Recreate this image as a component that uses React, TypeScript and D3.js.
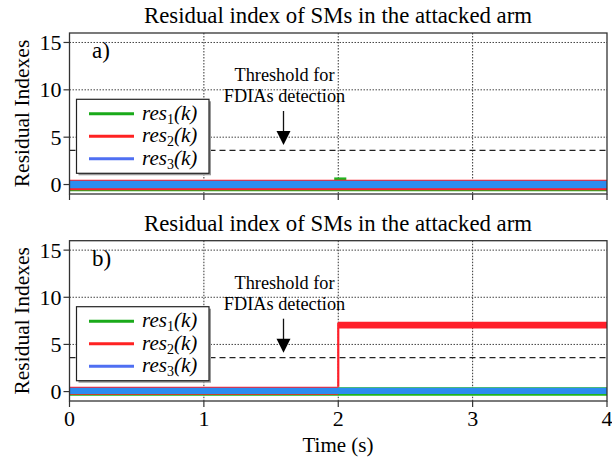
import React from "react";
import * as d3 from "d3";

// ---- data ----
const xTicks = [0, 1, 2, 3, 4];
const yTicks = [0, 5, 10, 15];
const threshold = 3.6;
const seriesNames = ["res1", "res2", "res3"];
const seriesColors = ["#1fb51f", "#ff1f2a", "#2b8cf0"];
const legendColors = ["#1aaa1a", "#ff2222", "#4f6ff2"];

// bands: [tStart, tEnd, low, high]
const panelA_green = [[0, 4, -0.7, 0.35], [1.97, 2.06, 0.3, 0.75]];
const panelA_red = [[0, 4, -0.6, 0.5]];
const panelA_blue = [[0, 4, -0.4, 0.4]];

const panelB_green = [[0, 4, -0.45, 0.45]];
const panelB_red = [[0, 2, -0.35, 0.5], [2, 4, 6.7, 7.4]];
const panelB_redStep = [[2, 0.5, 7.3]];
const panelB_blue = [[0, 4, -0.25, 0.4]];

const panelLabels = ["a)", "b)"];
const title = "Residual index of SMs in the attacked arm";

const W = 612;
const H = 457;
const serif = "'Liberation Serif', 'Times New Roman', serif";

function Panel({ top, bottom, label, bands, steps, showX }) {
  const x = d3.scaleLinear().domain([0, 4]).range([69.5, 607]);
  const y = d3.scaleLinear().domain([-1, 16]).range([bottom, top]);
  const area = d3
    .area<number[]>()
    .x((d) => x(d[0]))
    .y0((d) => y(d[1]))
    .y1((d) => y(d[2]));
  const bandPath = (b) => area([[b[0], b[2], b[3]], [b[1], b[2], b[3]]]) as string;
  const x0 = x(0), x1 = x(4);
  const legX = 76.5, legY = y(9.0), legW = 132.5, legH = 74;
  const arrowX = 283.5;
  return (
    <g>
      <text x={338} y={top - 10} fontSize={22.8} textAnchor="middle" fontFamily={serif}>
        {title}
      </text>
      {/* grid */}
      {[1, 2, 3].map((t) => (
        <line key={"gx" + t} x1={x(t)} x2={x(t)} y1={top} y2={bottom} stroke="#333" strokeWidth={1} strokeDasharray="1.5,1.5" />
      ))}
      {[0, 5, 10, 15].map((v) => (
        <line key={"gy" + v} x1={x0} x2={x1} y1={y(v)} y2={y(v)} stroke="#444" strokeWidth={1} strokeDasharray="1.5,1.5" />
      ))}
      {/* threshold */}
      <line x1={x0} x2={x1} y1={y(threshold)} y2={y(threshold)} stroke="#222" strokeWidth={1.3} strokeDasharray="6,4" />
      {/* data */}
      <g>
        {bands[0].map((b, i) => <path key={"g" + i} d={bandPath(b)} fill={seriesColors[0]} />)}
        {bands[1].map((b, i) => <path key={"r" + i} d={bandPath(b)} fill={seriesColors[1]} />)}
        {steps.map((s, i) => (
          <line key={"s" + i} x1={x(s[0])} x2={x(s[0])} y1={y(s[1])} y2={y(s[2])} stroke={seriesColors[1]} strokeWidth={2.2} />
        ))}
        {bands[2].map((b, i) => <path key={"b" + i} d={bandPath(b)} fill={seriesColors[2]} />)}
      </g>
      {/* frame */}
      <rect x={x0} y={top} width={x1 - x0} height={bottom - top} fill="none" stroke="#333" strokeWidth={1.3} />
      {/* y ticks */}
      {yTicks.map((v) => (
        <g key={"yt" + v}>
          <line x1={x0 - 6} x2={x0} y1={y(v)} y2={y(v)} stroke="#333" strokeWidth={1.2} />
          <text x={x0 - 8} y={y(v) + 7.5} fontSize={22} textAnchor="end" fontFamily={serif}>
            {v}
          </text>
        </g>
      ))}
      {/* x ticks */}
      {xTicks.map((t) => (
        <g key={"xt" + t}>
          <line x1={x(t)} x2={x(t)} y1={bottom} y2={bottom + 6} stroke="#333" strokeWidth={1.2} />
          {showX && (
            <text x={x(t)} y={bottom + 25} fontSize={22} textAnchor="middle" fontFamily={serif}>
              {t}
            </text>
          )}
        </g>
      ))}
      {/* y label */}
      <text
        transform={`translate(29,${(top + bottom) / 2}) rotate(-90)`}
        fontSize={21.5}
        textAnchor="middle"
        fontFamily={serif}
      >
        Residual Indexes
      </text>
      {/* panel label */}
      <text x={92} y={top + 25} fontSize={23} fontFamily={serif}>
        {label}
      </text>
      {/* annotation */}
      <text x={arrowX + 1} y={top + 48} fontSize={18.3} textAnchor="middle" fontFamily={serif}>
        Threshold for
      </text>
      <text x={arrowX + 1} y={top + 69} fontSize={18.3} textAnchor="middle" fontFamily={serif}>
        FDIAs detection
      </text>
      <line x1={arrowX} x2={arrowX} y1={top + 78} y2={top + 100} stroke="#111" strokeWidth={1.3} />
      <path
        d={`M${arrowX - 7},${top + 98} L${arrowX + 7},${top + 98} L${arrowX},${top + 112} Z`}
        fill="#000"
      />
      {/* legend */}
      <rect x={legX + 2} y={legY + 2} width={legW} height={legH} fill="#999" />
      <rect x={legX} y={legY} width={legW} height={legH} fill="#fff" stroke="#222" strokeWidth={1.2} />
      {seriesNames.map((n, i) => {
        const ly = legY + 14.5 + i * 22.5;
        return (
          <g key={n}>
            <line x1={89} x2={134} y1={ly} y2={ly} stroke={legendColors[i]} strokeWidth={3} />
            <text x={142} y={ly + 6} fontSize={21} fontStyle="italic" fontFamily={serif}>
              res
              <tspan fontSize={14} dy={4} fontStyle="normal">{i + 1}</tspan>
              <tspan dy={-4}>(k)</tspan>
            </text>
          </g>
        );
      })}
    </g>
  );
}

export default function App() {
  return (
    <svg
      width={W}
      height={H}
      viewBox={`0 0 ${W} ${H}`}
      style={{ position: "absolute", left: 0, top: 0, background: "#fff", display: "block" }}
    >
      <rect width={W} height={H} fill="#fff" />
      <Panel
        top={33}
        bottom={194}
        label={panelLabels[0]}
        bands={[panelA_green, panelA_red, panelA_blue]}
        steps={[]}
        showX={false}
      />
      <Panel
        top={240.7}
        bottom={401}
        label={panelLabels[1]}
        bands={[panelB_green, panelB_red, panelB_blue]}
        steps={panelB_redStep}
        showX={true}
      />
      <text x={338} y={451.5} fontSize={21} textAnchor="middle" fontFamily={serif}>
        Time (s)
      </text>
    </svg>
  );
}
